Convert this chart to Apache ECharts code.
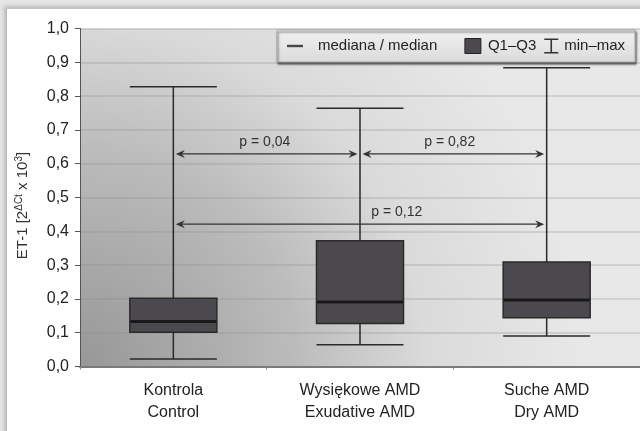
<!DOCTYPE html>
<html>
<head>
<meta charset="utf-8">
<script src="https://cdn.jsdelivr.net/npm/echarts@6/dist/echarts.min.js"></script>
<style>
  html, body { margin: 0; padding: 0; background: #e6e6e6; overflow: hidden; }
  #card { position: absolute; left: 6px; top: 8px; width: 700px; height: 500px; background: #ffffff;
          border-left: 1px solid #b8b8b8; border-top: 1px solid #c4c4c4; box-shadow: -2px -2px 4px rgba(0,0,0,0.18); }
  #chart { position: absolute; left: 0; top: 0; width: 640px; height: 431px; }
</style>
</head>
<body>
<div id="card"></div>
<div id="chart"></div>
<script>
// ---- data ----
const categories = ['Kontrola\nControl', 'Wysiękowe AMD\nExudative AMD', 'Suche AMD\nDry AMD'];
const mins    = [0.022, 0.064, 0.090];
const q1s     = [0.101, 0.127, 0.144];
const medians = [0.133, 0.191, 0.197];
const q3s     = [0.202, 0.372, 0.309];
const maxs    = [0.828, 0.764, 0.884];
const compFrom   = [0, 1, 0];
const compTo     = [1, 2, 2];
const compLevel  = [0.629, 0.629, 0.421];
const compLabels = ['p = 0,04', 'p = 0,82', 'p = 0,12'];
const compLabelFrac = [0.49, 0.48, 0.60];
const yTicks = [0, 0.1, 0.2, 0.3, 0.4, 0.5, 0.6, 0.7, 0.8, 0.9, 1.0];
const legendNames = ['mediana / median', 'Q1–Q3', 'min–max'];

const FONT = '"Liberation Sans", Arial, sans-serif';

const boxData = categories.map((c, i) => [mins[i], q1s[i], medians[i], q3s[i], maxs[i]]);
const medData = categories.map((c, i) => [i, medians[i]]);
const compData = compFrom.map((f, i) => [f, compTo[i], compLevel[i]]);

const chart = echarts.init(document.getElementById('chart'), null, { renderer: 'canvas' });

function arrowHead(tip, dir) {
  const L = 9, W = 4, N = 6;
  return [
    [tip[0], tip[1]],
    [tip[0] - dir * L, tip[1] - W],
    [tip[0] - dir * N, tip[1]],
    [tip[0] - dir * L, tip[1] + W]
  ];
}

const option = {
  backgroundColor: 'transparent',
  animation: false,
  textStyle: { fontFamily: FONT },
  grid: {
    left: 80, top: 28.5, bottom: 64.5, right: -12,
    show: true, borderWidth: 0,
    backgroundColor: new echarts.graphic.RadialGradient(0, 1, 1.5, [
      { offset: 0, color: '#979797' },
      { offset: 0.43, color: '#bcbcbc' },
      { offset: 0.68, color: '#dadada' },
      { offset: 1, color: '#e8e8e8' }
    ])
  },
  legend: {
    left: 277, top: 30, width: 356,
    padding: [8, 10, 8, 10],
    itemWidth: 16, itemHeight: 15, itemGap: 8,
    backgroundColor: new echarts.graphic.LinearGradient(0, 0, 0, 1, [
      { offset: 0, color: '#f2f2f2' },
      { offset: 1, color: '#dadada' }
    ]),
    borderColor: '#a8a8a8', borderWidth: 1,
    shadowColor: 'rgba(0,0,0,0.6)', shadowBlur: 2, shadowOffsetX: 1, shadowOffsetY: 2,
    textStyle: { fontFamily: FONT, fontSize: 15, color: '#222' },
    formatter: name => name === legendNames[0] ? name + '\u2003 ' : name,
    selectedMode: false,
    data: [
      { name: legendNames[0], icon: 'path://M0,0H16V2.4H0Z', itemStyle: { color: '#222' },
        textStyle: { padding: [0, 0, 0, 10] } },
      { name: legendNames[1], icon: 'rect', itemStyle: { color: '#4b494d', borderColor: '#222', borderWidth: 1 },
        textStyle: { padding: [0, 0, 0, 2] } },
      { name: legendNames[2], icon: 'path://M0,0H14V1.6H7.8V13.4H14V15H0V13.4H6.2V1.6H0Z', itemStyle: { color: '#333' } }
    ]
  },
  xAxis: {
    type: 'category',
    data: categories,
    boundaryGap: true,
    axisLine: { lineStyle: { color: '#7a7a7a', width: 2 } },
    axisTick: { show: true, length: 3, lineStyle: { color: '#888' } },
    axisLabel: { color: '#222', fontSize: 16, lineHeight: 22, margin: 13, fontFamily: FONT },
    splitLine: { show: false }
  },
  yAxis: {
    type: 'value',
    min: 0, max: 1, interval: 0.1,
    name: '{a|ET-1 [2}{s|ΔCt}{a| x 10}{s|3}{a|]}',
    nameLocation: 'middle', nameGap: 49, nameRotate: 90,
    nameTextStyle: {
      padding: [0, 16, 0, 0],
      rich: {
        a: { fontSize: 15, color: '#333', fontFamily: FONT },
        s: { fontSize: 10, color: '#333', fontFamily: FONT, verticalAlign: 'top', padding: [0, 0, 7, 0] }
      }
    },
    axisLine: { show: true, lineStyle: { color: '#555', width: 1 } },
    axisTick: { show: true, inside: false, length: 5, lineStyle: { color: '#555' } },
    axisLabel: {
      color: '#222', fontSize: 16, margin: 11, fontFamily: FONT,
      formatter: v => {
        const t = yTicks.find(x => Math.abs(x - v) < 1e-9);
        return (t !== undefined ? t : v).toFixed(1).replace('.', ',');
      }
    },
    splitLine: { show: true, lineStyle: { color: 'rgba(140,140,140,0.35)', width: 1.5 } }
  },
  series: [
    {
      name: legendNames[1],
      type: 'boxplot',
      data: boxData,
      boxWidth: [87, 87],
      itemStyle: { color: '#4b494d', borderColor: '#2a2a2a', borderWidth: 1.5 },
      emphasis: { disabled: true },
      z: 2
    },
    {
      name: legendNames[0],
      type: 'scatter',
      data: medData,
      symbol: 'rect',
      symbolSize: [86, 3],
      itemStyle: { color: '#111' },
      emphasis: { disabled: true },
      z: 3
    },
    {
      name: 'p',
      type: 'custom',
      data: compData,
      z: 4,
      renderItem: function (params, api) {
        const y = api.value(2);
        const a = api.coord([api.value(0), y]);
        const b = api.coord([api.value(1), y]);
        const t1 = [a[0] + 2.5, a[1]];
        const t2 = [b[0] - 2.5, b[1]];
        const f = compLabelFrac[params.dataIndex];
        return {
          type: 'group',
          children: [
            { type: 'line', shape: { x1: t1[0] + 4, y1: t1[1], x2: t2[0] - 4, y2: t2[1] },
              style: { stroke: '#333', lineWidth: 1.3 } },
            { type: 'polygon', shape: { points: arrowHead(t1, -1) }, style: { fill: '#333' } },
            { type: 'polygon', shape: { points: arrowHead(t2, 1) }, style: { fill: '#333' } },
            { type: 'text', x: t1[0] + (t2[0] - t1[0]) * f, y: t1[1] - 12,
              style: { text: compLabels[params.dataIndex], fill: '#333', font: '14px ' + FONT,
                       align: 'center', verticalAlign: 'middle' } }
          ]
        };
      }
    },
    {
      name: legendNames[2],
      type: 'line',
      data: []
    }
  ]
};

chart.setOption(option);
</script>
</body>
</html>
